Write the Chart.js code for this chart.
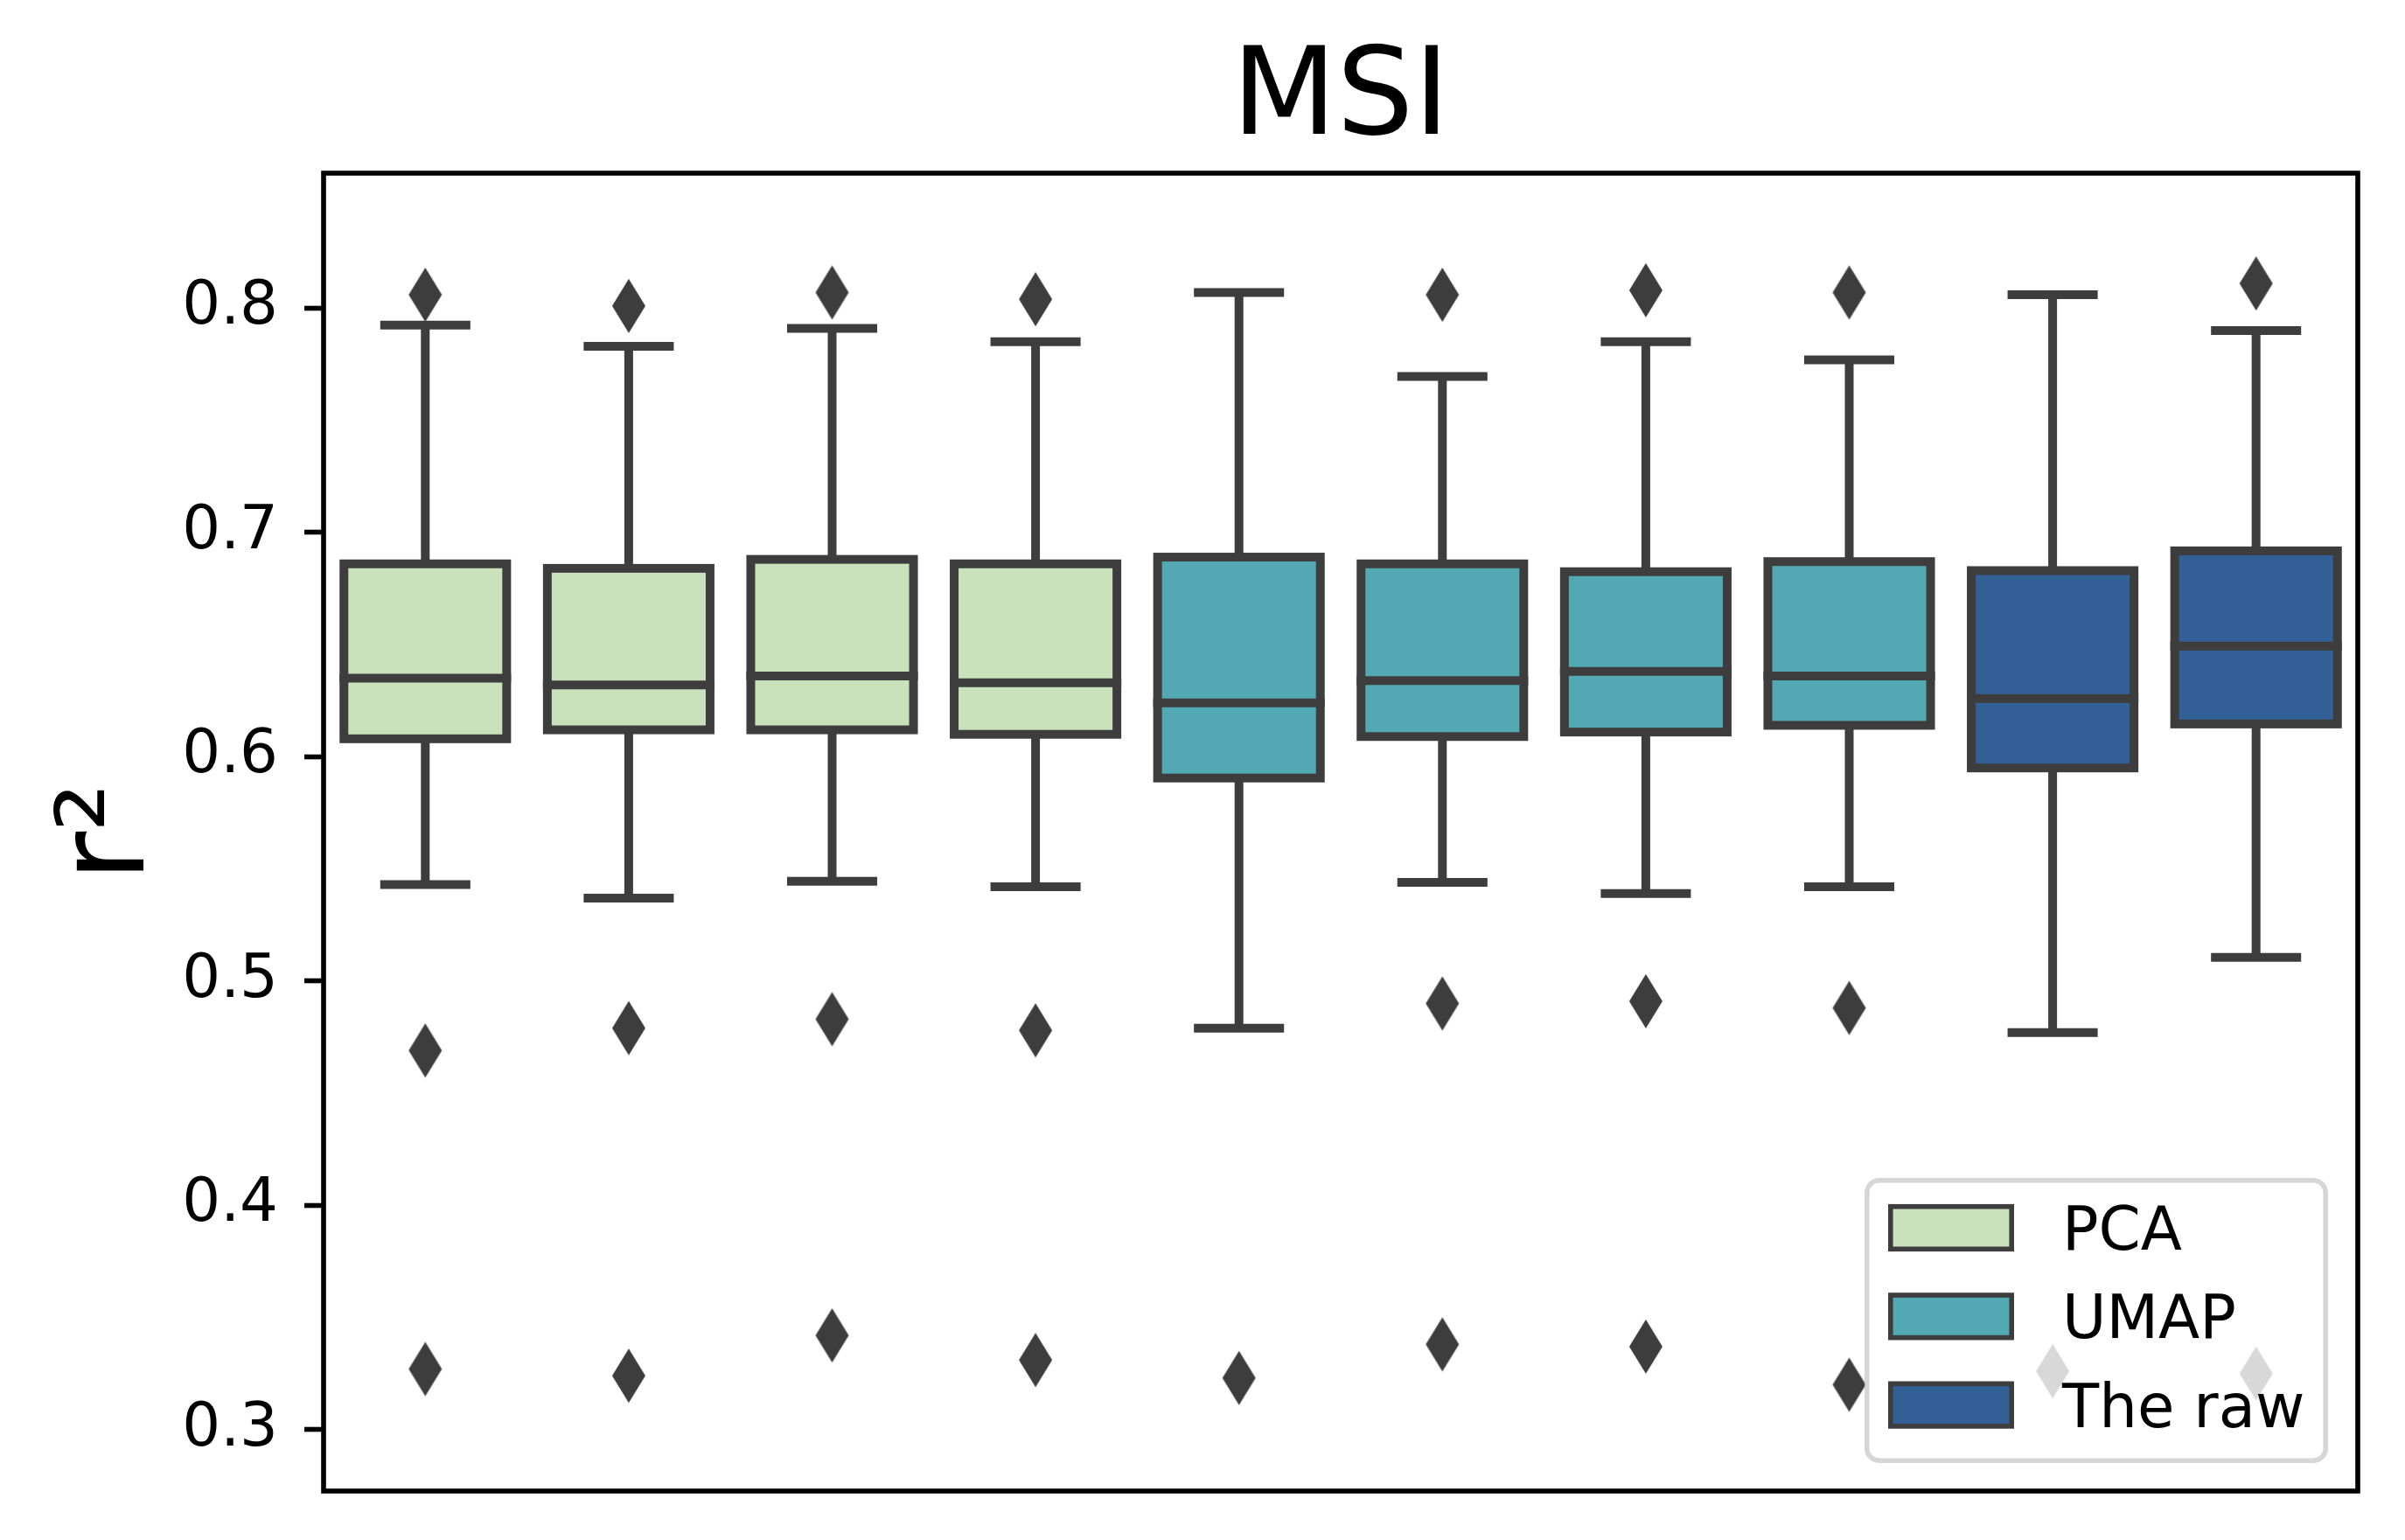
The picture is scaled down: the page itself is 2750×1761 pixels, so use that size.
<!DOCTYPE html>
<html><head><meta charset="utf-8">
<script src="https://cdn.jsdelivr.net/npm/chart.js@4/dist/chart.umd.min.js"></script>
<style>html,body{margin:0;padding:0;background:#fff;} canvas{display:block;}</style>
</head><body>
<canvas id="c" width="2750" height="1761"></canvas>
<script>
// ---------- data ----------
const categories = ['1','2','3','4','5','6','7','8','9','10'];
const groups = ['PCA','PCA','PCA','PCA','UMAP','UMAP','UMAP','UMAP','The raw','The raw'];
const legendLabels = ['PCA','UMAP','The raw'];
const whiskerLow  = [0.543, 0.537, 0.5445, 0.542, 0.479, 0.544, 0.539, 0.542, 0.477, 0.5105];
const q1          = [0.608, 0.612, 0.612, 0.610, 0.5905, 0.609, 0.611, 0.614, 0.595, 0.6146];
const median      = [0.635, 0.632, 0.636, 0.633, 0.624, 0.634, 0.638, 0.636, 0.626, 0.6494];
const q3          = [0.686, 0.684, 0.688, 0.686, 0.689, 0.686, 0.6825, 0.687, 0.683, 0.6918];
const whiskerHigh = [0.7925, 0.783, 0.791, 0.785, 0.807, 0.7695, 0.785, 0.777, 0.806, 0.790];
const outlierHigh = [0.806, 0.801, 0.807, 0.804, null, 0.806, 0.808, 0.807, null, 0.811];
const outlierMid  = [0.469, 0.479, 0.483, 0.478, null, 0.490, 0.491, 0.488, null, null];
const outlierLow  = [0.327, 0.324, 0.342, 0.331, 0.323, 0.338, 0.337, 0.320, 0.326, 0.325];
const yTicks = [0.3, 0.4, 0.5, 0.6, 0.7, 0.8];

// ---------- styles ----------
const groupColors = {'PCA':'#c9e2bb', 'UMAP':'#52a9b4', 'The raw':'#325f96'};
const EDGE = '#3d3d3d';
const LW = 10;
const FONT = "'DejaVu Sans', sans-serif";
Chart.defaults.font.family = FONT;

const diamond = (() => {
  const c = document.createElement('canvas');
  c.width = 40; c.height = 64;
  const g = c.getContext('2d');
  g.fillStyle = EDGE;
  g.beginPath(); g.moveTo(20,1); g.lineTo(39,32); g.lineTo(20,63); g.lineTo(1,32); g.closePath(); g.fill();
  return c;
})();

const boxDatasets = legendLabels.map(g => ({
  type: 'bar',
  label: g,
  data: categories.map((c, i) => groups[i] === g ? [q1[i], q3[i]] : null),
  backgroundColor: groupColors[g],
  borderWidth: 0,
  grouped: false,
  barPercentage: 0.8,
  categoryPercentage: 1.0,
  order: 2
}));
const outlierDatasets = [outlierHigh, outlierMid, outlierLow].map(arr => ({
  type: 'line',
  label: 'outliers',
  data: arr,
  showLine: false,
  pointStyle: diamond,
  pointRadius: 20,
  pointHoverRadius: 20,
  order: 1
}));

const boxplotPlugin = {
  id: 'boxplotParts',
  beforeDatasetsDraw(chart) {
    const {ctx, scales: {x, y}} = chart;
    ctx.save();
    ctx.strokeStyle = EDGE; ctx.lineWidth = LW;
    categories.forEach((c, i) => {
      const cx = x.getPixelForValue(i);
      ctx.lineCap = 'butt';
      ctx.beginPath();
      ctx.moveTo(cx, y.getPixelForValue(q3[i])); ctx.lineTo(cx, y.getPixelForValue(whiskerHigh[i]));
      ctx.moveTo(cx, y.getPixelForValue(q1[i])); ctx.lineTo(cx, y.getPixelForValue(whiskerLow[i]));
      ctx.stroke();
      ctx.lineCap = 'square';
      const xl = x.getPixelForValue(i - 0.2), xr = x.getPixelForValue(i + 0.2);
      ctx.beginPath();
      [whiskerHigh[i], whiskerLow[i]].forEach(v => { const py = y.getPixelForValue(v); ctx.moveTo(xl, py); ctx.lineTo(xr, py); });
      ctx.stroke();
    });
    ctx.restore();
  },
  afterDatasetsDraw(chart) {
    const {ctx, scales: {x, y}} = chart;
    ctx.save();
    ctx.strokeStyle = EDGE; ctx.lineWidth = LW; ctx.lineJoin = 'miter';
    categories.forEach((c, i) => {
      const xl = x.getPixelForValue(i - 0.4), xr = x.getPixelForValue(i + 0.4);
      const yt = y.getPixelForValue(q3[i]), yb = y.getPixelForValue(q1[i]);
      ctx.strokeRect(xl, yt, xr - xl, yb - yt);
      ctx.lineCap = 'square';
      const ym = y.getPixelForValue(median[i]);
      ctx.beginPath(); ctx.moveTo(xl, ym); ctx.lineTo(xr, ym); ctx.stroke();
    });
    ctx.restore();
  },
  afterDraw(chart) {
    const {ctx, chartArea: ca} = chart;
    ctx.save();
    // spines
    ctx.strokeStyle = '#000'; ctx.lineWidth = 5.6; ctx.lineJoin = 'miter';
    ctx.strokeRect(ca.left, ca.top, ca.right - ca.left, ca.bottom - ca.top);
    // legend
    const fr = ca.right - 36.8, fb = ca.bottom - 34.8;
    const fw = 524.4, fh = 320.4;
    const fl = fr - fw, ft = fb - fh;
    ctx.beginPath();
    ctx.roundRect(fl, ft, fw, fh, 14);
    ctx.globalAlpha = 0.8;
    ctx.fillStyle = '#fff'; ctx.fill();
    ctx.strokeStyle = '#cccccc'; ctx.lineWidth = 5.6; ctx.stroke();
    ctx.globalAlpha = 1;
    const fs = 69;
    ctx.font = fs + 'px ' + FONT;
    ctx.textAlign = 'left'; ctx.textBaseline = 'alphabetic';
    legendLabels.forEach((g, k) => {
      const cy = ft + 54.2 + k * 101.3;
      ctx.fillStyle = groupColors[g];
      ctx.fillRect(fl + 27, cy - 24.3, 138.4, 48.6);
      ctx.strokeStyle = EDGE; ctx.lineWidth = 5.6;
      ctx.strokeRect(fl + 27, cy - 24.3, 138.4, 48.6);
      ctx.fillStyle = '#000';
      ctx.fillText(g, fl + 223.2, cy + 0.729 * fs / 2);
    });
    ctx.restore();
  }
};

new Chart(document.getElementById('c'), {
  type: 'bar',
  data: { labels: categories, datasets: [...outlierDatasets, ...boxDatasets] },
  options: {
    responsive: false,
    animation: false,
    devicePixelRatio: 1,
    layout: { padding: { left: 0, right: 54, top: 0, bottom: 56 } },
    plugins: {
      legend: { display: false },
      tooltip: { enabled: false },
      title: {
        display: true, text: 'MSI', color: '#000', fullSize: false,
        font: { size: 139, weight: 'normal', family: FONT, lineHeight: 1.1 },
        padding: { top: 40.5, bottom: 4.6 }
      }
    },
    scales: {
      x: { display: false, offset: true },
      y: {
        type: 'linear', min: 0.2726, max: 0.8602,
        afterBuildTicks: s => { s.ticks = yTicks.map(v => ({ value: v })); },
        afterFit: s => { s.width = 370; s.paddingTop = 0; s.paddingBottom = 0; },
        ticks: { font: { size: 69, family: FONT }, color: '#000', padding: 30, callback: v => Number(v).toFixed(1) },
        grid: { display: true, drawOnChartArea: false, drawTicks: true, tickLength: 22, tickWidth: 5.6, tickColor: '#000' },
        border: { display: false },
        title: { display: true, text: 'r²', color: '#000', font: { size: 139, family: FONT }, padding: { top: 44, bottom: 0 } }
      }
    }
  },
  plugins: [boxplotPlugin]
});
</script>
</body></html>
